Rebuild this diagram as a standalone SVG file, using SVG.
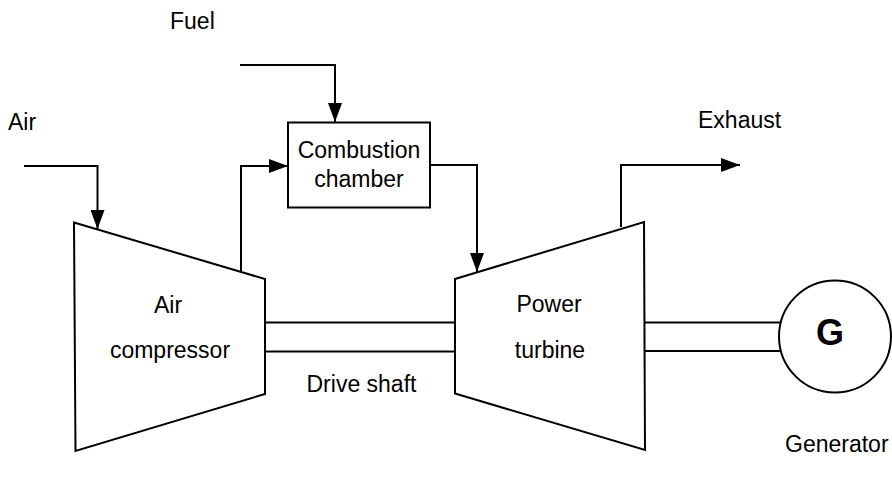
<svg xmlns="http://www.w3.org/2000/svg" width="892" height="479" viewBox="0 0 892 479">
<style>
  .ln{fill:none;stroke:#000;stroke-width:2;stroke-linejoin:miter}
  .sh{fill:#fff;stroke:#000;stroke-width:2;stroke-linejoin:miter}
  text{font-family:"Liberation Sans",Arial,sans-serif;font-size:23px;fill:#000}
  .c{text-anchor:middle}
</style>
<defs>
  <marker id="ah" viewBox="0 0 19 14" refX="19" refY="7" markerWidth="19" markerHeight="14" markerUnits="userSpaceOnUse" orient="auto">
    <path d="M0,0 L19,7 L0,14 z" fill="#000"/>
  </marker>
</defs>
<g id="connectors">
  <path class="ln" d="M24,166 H97.5 V229" marker-end="url(#ah)"/>
  <path class="ln" d="M240,65 H335 V122" marker-end="url(#ah)"/>
  <path class="ln" d="M241,271 V166 H288" marker-end="url(#ah)"/>
  <path class="ln" d="M430,165 H477 V272" marker-end="url(#ah)"/>
  <path class="ln" d="M621,227 V165 H740" marker-end="url(#ah)"/>
  <g id="drive-shaft">
    <line class="ln" x1="265" y1="322.5" x2="455" y2="322.5"/>
    <line class="ln" x1="265" y1="351.5" x2="455" y2="351.5"/>
  </g>
  <g id="gen-shaft">
    <line class="ln" x1="645" y1="322.5" x2="780" y2="322.5"/>
    <line class="ln" x1="645" y1="351" x2="780" y2="351"/>
  </g>
</g>
<g id="compressor">
  <polygon class="sh" points="74,222.5 265,279 265,394 75.5,451"/>
  <text class="c" x="168" y="313">Air</text>
  <text class="c" x="170" y="358">compressor</text>
</g>
<g id="combustion">
  <rect class="sh" x="288" y="122.5" width="142" height="85"/>
  <text class="c" x="359" y="158">Combustion</text>
  <text class="c" x="359" y="187">chamber</text>
</g>
<g id="turbine">
  <polygon class="sh" points="455,279 644,222 645,450 455,393.5"/>
  <text class="c" x="549" y="312">Power</text>
  <text class="c" x="550" y="358">turbine</text>
</g>
<g id="generator">
  <circle class="sh" cx="835" cy="336.5" r="56"/>
  <text class="c" x="830" y="345" style="font-weight:bold;font-size:36px">G</text>
</g>
<g id="labels">
  <text x="170" y="29">Fuel</text>
  <text x="8" y="130">Air</text>
  <text x="698" y="128">Exhaust</text>
  <text x="306.5" y="392">Drive shaft</text>
  <text x="785" y="451.5">Generator</text>
</g>
</svg>
